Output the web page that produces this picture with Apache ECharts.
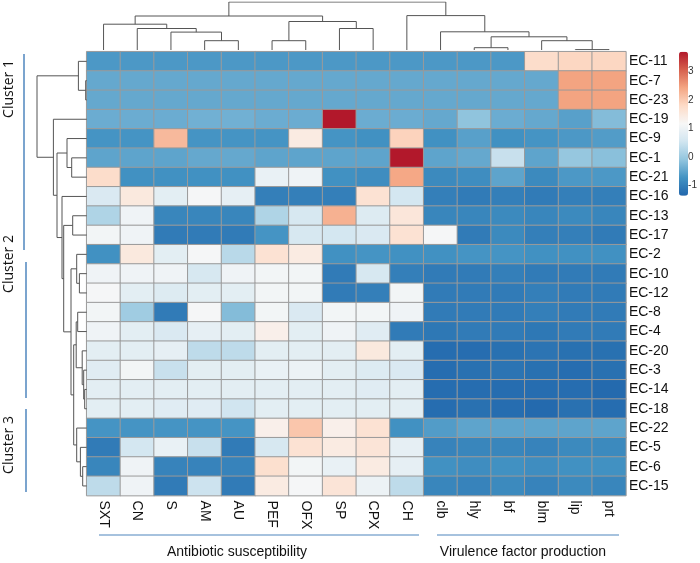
<!DOCTYPE html>
<html>
<head>
<meta charset="utf-8">
<script src="https://cdn.jsdelivr.net/npm/echarts@6/dist/echarts.min.js"></script>
<style>html,body{margin:0;padding:0;background:#fff;}#c{width:700px;height:563px;}</style>
</head>
<body>
<div id="c"></div>
<script>
// ---- data ----
const columns = ['SXT','CN','S','AM','AU','PEF','OFX','SP','CPX','CH','clb','hly','bf','blm','lip','prt'];
const rowsLab = ['EC-11','EC-7','EC-23','EC-19','EC-9','EC-1','EC-21','EC-16','EC-13','EC-17','EC-2','EC-10','EC-12','EC-8','EC-4','EC-20','EC-3','EC-14','EC-18','EC-22','EC-5','EC-6','EC-15'];
const heat = [
  [-0.65,-0.65,-0.65,-0.65,-0.65,-0.65,-0.65,-0.65,-0.65,-0.65,-0.65,-0.65,-0.65,1.75,1.85,1.85],
  [-0.45,-0.45,-0.45,-0.45,-0.45,-0.45,-0.45,-0.45,-0.45,-0.45,-0.45,-0.45,-0.45,-0.45,2.45,2.45],
  [-0.45,-0.45,-0.45,-0.45,-0.45,-0.45,-0.45,-0.45,-0.45,-0.45,-0.45,-0.45,-0.45,-0.45,2.45,2.45],
  [-0.4,-0.4,-0.4,-0.35,-0.35,-0.4,-0.4,3.7,-0.4,-0.4,-0.45,-0.1,-0.4,-0.45,-0.55,-0.2],
  [-0.7,-0.7,2.2,-0.7,-0.7,-0.7,1.45,-0.7,-0.75,1.9,-0.75,-0.55,-0.75,-0.7,-0.65,-0.6],
  [-0.5,-0.5,-0.5,-0.45,-0.45,-0.5,-0.5,-0.5,-0.5,3.7,-0.5,-0.45,0.45,-0.5,-0.05,-0.15],
  [1.75,-0.75,-0.75,-0.75,-0.75,0.95,1.05,-0.75,-0.8,2.4,-0.85,-0.8,-0.5,-0.85,-0.65,-0.65],
  [0.7,1.5,0.85,1.15,0.9,-1.0,-1.0,-1.0,1.65,0.6,-1.0,-1.05,-1.0,-1.05,-1.0,-1.0],
  [0.2,1.05,-0.9,-0.9,-0.9,0.2,0.65,2.3,0.75,1.55,-0.9,-0.9,-0.85,-0.9,-0.85,-0.9],
  [1.1,1.05,-1.05,-1.05,-1.05,-0.7,0.65,0.6,0.7,1.65,1.15,-1.05,-0.85,-1.0,-1.0,-1.05],
  [-0.75,1.5,0.85,1.15,0.3,1.65,1.45,-0.75,-0.7,-0.75,-0.75,-0.7,-0.7,-0.75,-0.75,-0.75],
  [1.05,1.05,1.05,0.65,1.05,1.1,1.1,-1.05,0.65,-1.0,-1.05,-1.05,-1.0,-1.05,-1.05,-1.05],
  [1.15,0.85,0.75,0.85,0.85,1.1,1.1,-1.05,-1.0,1.1,-1.05,-1.05,-1.05,-1.0,-1.05,-1.05],
  [1.1,0.05,-1.05,1.15,-0.2,1.1,0.7,1.1,1.1,1.05,-1.05,-1.05,-1.05,-1.0,-1.05,-1.05],
  [1.05,0.85,0.7,0.9,0.85,1.35,0.85,1.05,0.8,-1.05,-1.1,-1.05,-1.05,-1.1,-1.05,-1.05],
  [0.85,0.85,0.9,0.35,0.35,0.85,0.85,0.85,1.5,0.85,-1.25,-1.25,-1.2,-1.15,-1.2,-1.2],
  [0.8,1.1,0.45,0.85,0.85,0.95,1.0,0.85,0.75,0.7,-1.25,-1.2,-1.15,-1.2,-1.25,-1.2],
  [0.85,0.85,0.85,0.85,0.85,0.85,0.85,0.85,0.8,0.85,-1.25,-1.25,-1.25,-1.25,-1.25,-1.3],
  [0.85,0.85,0.8,0.8,0.55,0.85,0.85,0.85,0.85,0.85,-1.25,-1.2,-1.25,-1.3,-1.2,-1.25],
  [-0.7,-0.7,-0.7,-0.7,-0.7,1.35,2.05,1.35,1.65,-0.75,-0.6,-0.5,-0.5,-0.5,-0.5,-0.5],
  [-1.05,0.6,0.95,0.45,-1.05,0.65,1.65,1.45,1.6,0.9,-0.95,-0.9,-0.9,-0.95,-0.85,-0.85],
  [-0.9,1.05,-0.95,-0.95,-0.95,1.7,1.1,0.95,1.45,0.9,-0.75,-0.8,-0.75,-0.8,-0.75,-0.75],
  [0.35,1.05,-1.05,0.5,-1.05,1.45,1.15,1.6,1.0,0.35,-0.9,-0.95,-0.85,-0.95,-0.85,-0.9]
];
// dendrogram merges: [childA, childB, height]; index < n is a leaf, else merge (index - n)
const colMerges = [
  [3,4,9.3],[2,16,17.9],[1,17,21.5],[0,18,25.8],[5,6,9.3],[7,8,21.5],[20,21,28.5],[19,22,34],
  [11,12,2.3],[14,15,0.4],[13,25,9.3],[24,26,13.2],[10,27,18.2],[9,28,34.4],[23,29,48]
];
const rowMerges = [
  [1,2,1],[0,23,8.3],[5,6,15],[4,25,19.7],[8,9,14],[11,12,7.3],[10,28,10],[13,14,9],
  [17,18,2],[16,31,3],[15,32,4.5],[30,33,10.5],[21,22,4],[20,35,6.3],[19,36,10],[34,37,13],
  [29,38,15.7],[27,39,23],[7,40,24.7],[26,41,29.7],[3,42,33.3],[24,43,49.7]
];
const clusterNames = ['Cluster 1','Cluster 2','Cluster 3'];
const groupNames = ['Antibiotic susceptibility','Virulence factor production'];
const colorTicks = [-1,0,1,2,3];
const valMin = -1.35, valMax = 3.7;
const palette = ['#2166AC','#4393C3','#92C5DE','#D1E5F0','#F7F7F7','#FDDBC7','#F4A582','#D6604D','#B2182B'];

// ---- build ----
const heatData = [];
heat.forEach((r, i) => r.forEach((v, j) => heatData.push([j, i, v])));

function dendro(n, merges, vertical) {
  const pos = [], hgt = [];
  for (let i = 0; i < n; i++) { pos.push(i + 0.5); hgt.push(0); }
  const out = [];
  merges.forEach(m => {
    const [a, b, h] = m;
    const pa = pos[a], pb = pos[b], ha = hgt[a], hb = hgt[b];
    const pts = [[pa, ha], [pa, h], [pb, h], [pb, hb]];
    out.push({ coords: vertical ? pts : pts.map(p => [p[1], p[0]]) });
    pos.push((pa + pb) / 2); hgt.push(h);
  });
  return out;
}

const HL = 86.7, HT = 51.7, HW = 539.2, HH = 443.9;
const font = "'Liberation Sans', Arial, sans-serif";
const clusterFont = "14px 'Open Sans', sans-serif";
const accent = '#4f86be';
const chart = echarts.init(document.getElementById('c'), null, { renderer: 'canvas' });
chart.setOption({
  animation: false,
  backgroundColor: '#fff',
  grid: [
    { left: HL, top: HT, width: HW, height: HH },
    { left: HL, top: 2, width: HW, height: 48 },
    { left: 37, top: HT, width: HL - 37, height: HH },
    { left: 679, top: 51.7, width: 9, height: 144 }
  ],
  xAxis: [
    { gridIndex: 0, type: 'category', data: columns, position: 'bottom',
      axisLine: { show: false }, axisTick: { show: false }, splitArea: { show: false },
      axisLabel: { rotate: -90, fontSize: 14, margin: 5, color: '#111', fontFamily: font, interval: 0 } },
    { gridIndex: 1, type: 'value', min: 0, max: 16, show: false },
    { gridIndex: 2, type: 'value', min: 0, max: 49.7, inverse: true, show: false },
    { gridIndex: 3, type: 'value', min: 0, max: 1, show: false }
  ],
  yAxis: [
    { gridIndex: 0, type: 'category', data: rowsLab, inverse: true, position: 'right',
      axisLine: { show: false }, axisTick: { show: false }, splitArea: { show: false },
      axisLabel: { fontSize: 14, margin: 3, color: '#111', fontFamily: font, interval: 0 } },
    { gridIndex: 1, type: 'value', min: 0, max: 48, show: false },
    { gridIndex: 2, type: 'value', min: 0, max: 23, inverse: true, show: false },
    { gridIndex: 3, type: 'value', min: valMin, max: valMax, position: 'right',
      axisLine: { show: false }, axisTick: { show: false }, splitLine: { show: false },
      axisLabel: { customValues: colorTicks, fontSize: 10, margin: 5, color: '#333', fontFamily: font } }
  ],
  visualMap: {
    type: 'continuous', min: valMin, max: valMax, seriesIndex: 0, calculable: false,
    orient: 'vertical', left: 679, top: 51.7, itemWidth: 9, itemHeight: 144, padding: 0,
    text: null, showLabel: false, hoverLink: false,
    inRange: { color: palette }
  },
  series: [
    { type: 'heatmap', xAxisIndex: 0, yAxisIndex: 0, data: heatData,
      itemStyle: { borderColor: '#9a9a9a', borderWidth: 1 }, emphasis: { disabled: true } },
    { type: 'lines', coordinateSystem: 'cartesian2d', xAxisIndex: 1, yAxisIndex: 1, polyline: true,
      silent: true, data: dendro(columns.length, colMerges, true),
      lineStyle: { color: '#555', width: 1, opacity: 1 } },
    { type: 'lines', coordinateSystem: 'cartesian2d', xAxisIndex: 2, yAxisIndex: 2, polyline: true,
      silent: true, data: dendro(rowsLab.length, rowMerges, false),
      lineStyle: { color: '#555', width: 1, opacity: 1 } },
    { type: 'scatter', xAxisIndex: 3, yAxisIndex: 3, data: [], silent: true }
  ],
  graphic: [
    { type: 'line', shape: { x1: 24, y1: 54, x2: 24, y2: 250 }, style: { stroke: accent, lineWidth: 1.5 } },
    { type: 'line', shape: { x1: 26, y1: 262, x2: 26, y2: 398 }, style: { stroke: accent, lineWidth: 1.5 } },
    { type: 'line', shape: { x1: 26, y1: 409, x2: 26, y2: 492 }, style: { stroke: accent, lineWidth: 1.5 } },
    { type: 'text', x: 9, y: 89, rotation: Math.PI / 2,
      style: { text: clusterNames[0], font: clusterFont, fill: '#111', textAlign: 'center', textVerticalAlign: 'middle' } },
    { type: 'text', x: 9, y: 264, rotation: Math.PI / 2,
      style: { text: clusterNames[1], font: clusterFont, fill: '#111', textAlign: 'center', textVerticalAlign: 'middle' } },
    { type: 'text', x: 9, y: 445, rotation: Math.PI / 2,
      style: { text: clusterNames[2], font: clusterFont, fill: '#111', textAlign: 'center', textVerticalAlign: 'middle' } },
    { type: 'line', shape: { x1: 99, y1: 535, x2: 419, y2: 535 }, style: { stroke: accent, lineWidth: 1.2 } },
    { type: 'line', shape: { x1: 437, y1: 535, x2: 619, y2: 535 }, style: { stroke: accent, lineWidth: 1.2 } },
    { type: 'text', x: 237, y: 552,
      style: { text: groupNames[0], font: "14px 'Liberation Sans', Arial, sans-serif", fill: '#111', textAlign: 'center', textVerticalAlign: 'middle' } },
    { type: 'text', x: 523, y: 552,
      style: { text: groupNames[1], font: "14px 'Liberation Sans', Arial, sans-serif", fill: '#111', textAlign: 'center', textVerticalAlign: 'middle' } }
  ]
});
</script>
</body>
</html>
